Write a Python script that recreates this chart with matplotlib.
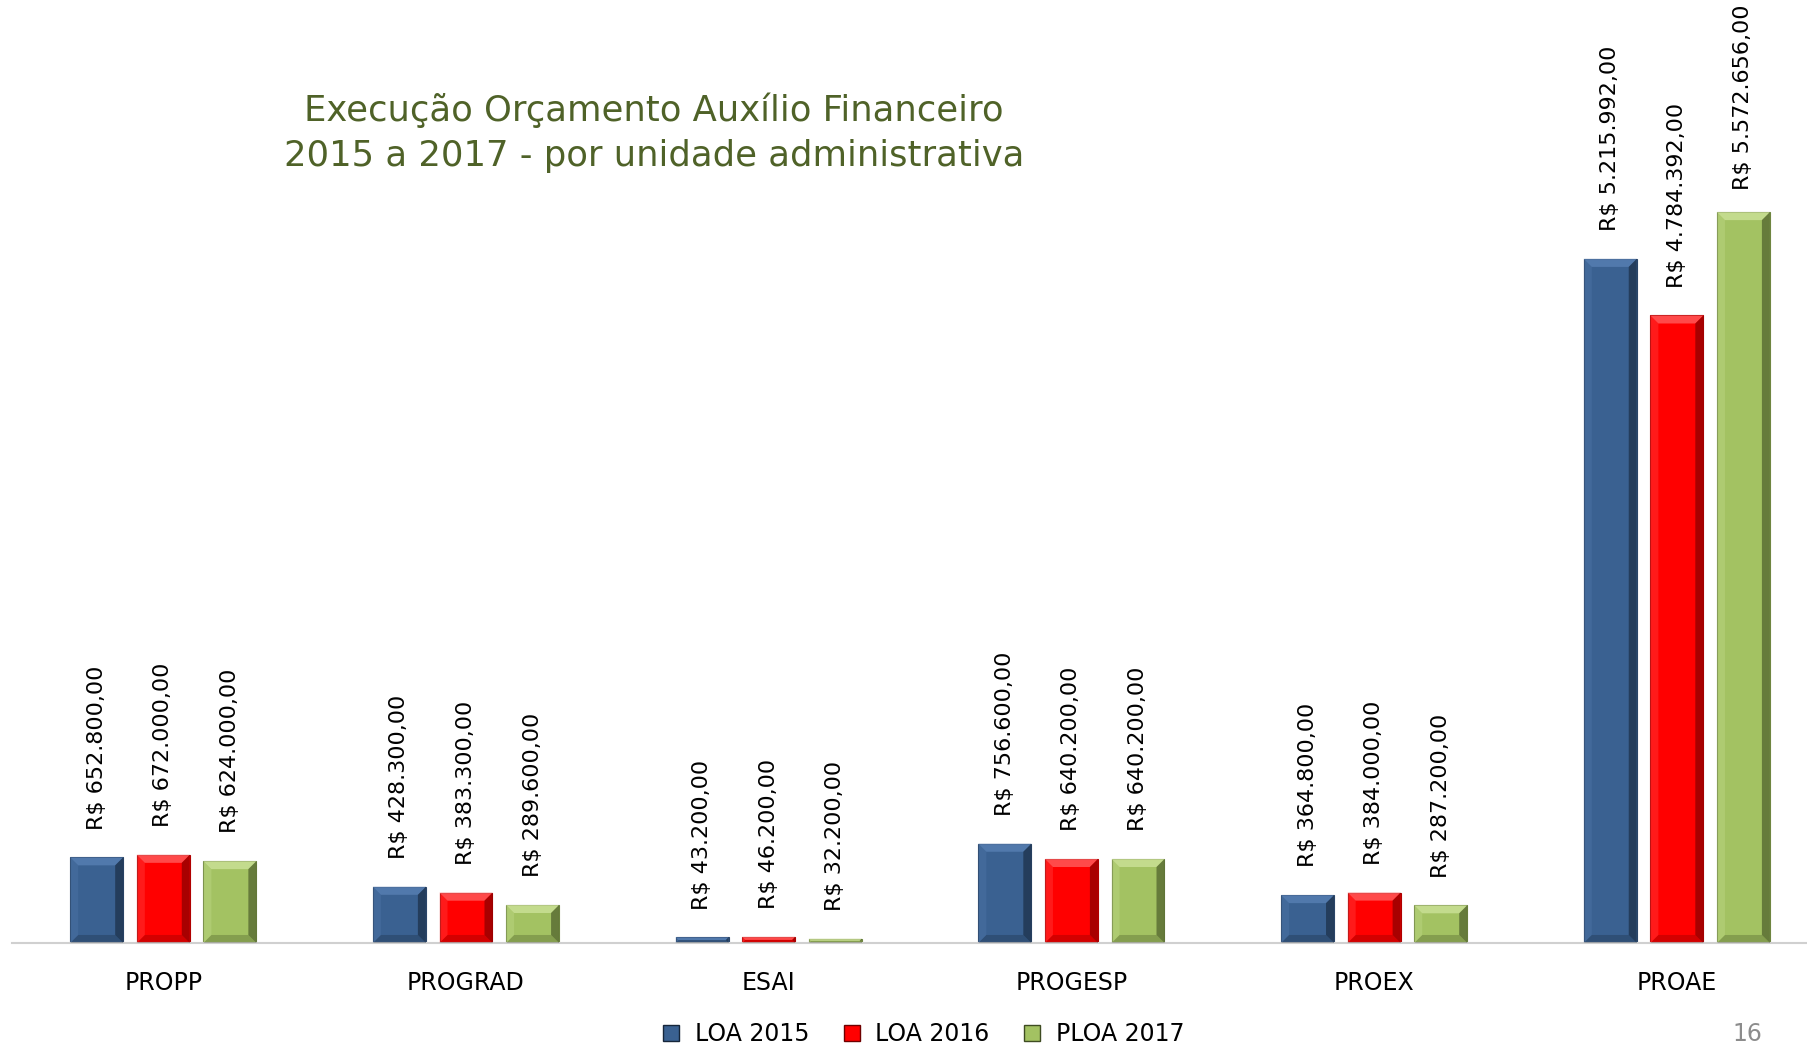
import matplotlib.pyplot as plt
import numpy as np
from matplotlib.lines import Line2D
from matplotlib.patches import Polygon
from matplotlib.transforms import IdentityTransform

categories = ['PROPP', 'PROGRAD', 'ESAI', 'PROGESP', 'PROEX', 'PROAE']
series_names = ['LOA 2015', 'LOA 2016', 'PLOA 2017']
loa_2015 = [652800, 428300, 43200, 756600, 364800, 5215992]
loa_2016 = [672000, 383300, 46200, 640200, 384000, 4784392]
ploa_2017 = [624000, 289600, 32200, 640200, 287200, 5572656]

colors = ['#3A6191', '#FF0000', '#A3C262']
lights = ['#5C84B8', '#FF6A6A', '#D2E6A0']
darks = ['#16263A', '#6E0000', '#3E4C22']
edges = ['#2A4568', '#B00000', '#6E8540']


def brl(v):
    s = f"{v:,.2f}"
    s = s.replace(',', 'X').replace('.', ',').replace('X', '.')
    return 'R$ ' + s


fig = plt.figure(figsize=(18.07, 10.46), dpi=100)
ax = fig.add_axes([0.0066, 0.0985, 0.9934, 0.9015])

x = np.arange(len(categories))
width = 0.175
step = 0.22
series = [loa_2015, loa_2016, ploa_2017]
ax.set_xlim(-0.5, 5.43)
ax.set_ylim(0, 7.19e6)

all_bars = []
labels = []
for i, vals in enumerate(series):
    pos = x + (i - 1) * step
    bars = ax.bar(pos, vals, width, color=colors[i], edgecolor=edges[i],
                  linewidth=0.8, label=series_names[i])
    all_bars.append(bars)
    for b, v in zip(bars, vals):
        t = ax.annotate(brl(v), (b.get_x() + b.get_width() / 2, v),
                        xytext=(0, 20), textcoords='offset points',
                        rotation=90, ha='center', va='bottom', fontsize=16,
                        color='black', annotation_clip=False)
        labels.append(t)

# bevel look on bars (pixel space)
fig.canvas.draw()
ident = IdentityTransform()
for i, bars in enumerate(all_bars):
    for b in bars:
        (x0, y0), (x1, y1) = ax.transData.transform(
            [(b.get_x(), 0), (b.get_x() + b.get_width(), b.get_height())])
        bv = min(8, (y1 - y0) / 2)
        top = Polygon([(x0, y1), (x1, y1), (x1 - bv, y1 - bv), (x0 + bv, y1 - bv)],
                      closed=True, transform=ident, facecolor=lights[i],
                      edgecolor='none', alpha=0.7)
        right = Polygon([(x1, y1), (x1, y0), (x1 - bv, y0 + bv), (x1 - bv, y1 - bv)],
                        closed=True, transform=ident, facecolor=darks[i],
                        edgecolor='none', alpha=0.6)
        bottom = Polygon([(x0, y0), (x1, y0), (x1 - bv, y0 + bv), (x0 + bv, y0 + bv)],
                         closed=True, transform=ident, facecolor=darks[i],
                         edgecolor='none', alpha=0.3)
        left = Polygon([(x0, y0), (x0, y1), (x0 + bv, y1 - bv), (x0 + bv, y0 + bv)],
                       closed=True, transform=ident, facecolor=lights[i],
                       edgecolor='none', alpha=0.25)
        for p in (top, right, bottom, left):
            fig.add_artist(p)

# keep tall labels inside the figure
renderer = fig.canvas.get_renderer()
H = fig.bbox.height
for t in labels:
    bb = t.get_window_extent(renderer)
    if bb.y1 > H - 4:
        over = (bb.y1 - (H - 4)) * 72 / fig.dpi
        t.xyann = (0, 20 - over)

for s in ['top', 'right', 'left']:
    ax.spines[s].set_visible(False)
ax.spines['bottom'].set_color('#D0D0D0')
ax.spines['bottom'].set_linewidth(1.5)
ax.set_yticks([])
ax.set_xticks(x)
ax.set_xticklabels(categories, fontsize=17)
ax.tick_params(axis='x', length=0, pad=20)

fig.text(0.362, 0.873, 'Execução Orçamento Auxílio Financeiro\n2015 a 2017 - por unidade administrativa',
         ha='center', va='center', fontsize=25.5, color='#4F6228', linespacing=1.4)

handles = [Line2D([], [], marker='s', linestyle='', markersize=11,
                  markerfacecolor=colors[i], markeredgecolor=darks[i])
           for i in range(3)]
fig.legend(handles, series_names, loc='center', bbox_to_anchor=(0.51, 0.0115),
           ncol=3, frameon=False, fontsize=17, handletextpad=0.5,
           columnspacing=1.3, handlelength=1.0)

fig.text(0.967, 0.0115, '16', ha='center', va='center', fontsize=17, color='#8C8C8C')

fig.savefig('out.png', dpi=100)
